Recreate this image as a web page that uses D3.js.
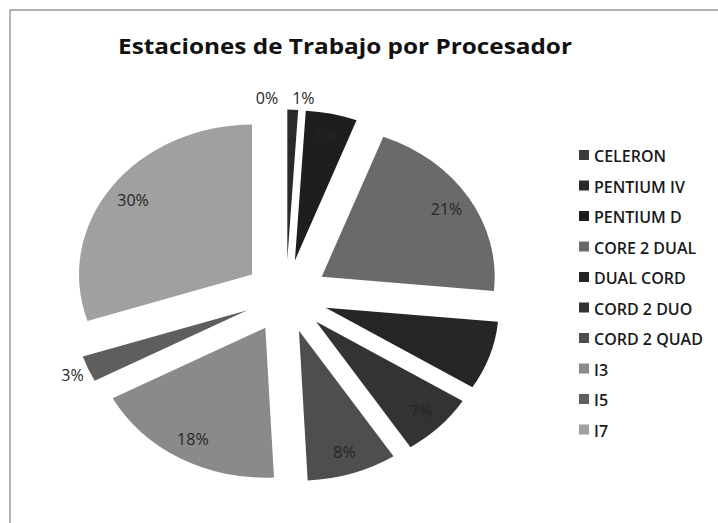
<!DOCTYPE html>
<html>
<head>
<meta charset="utf-8">
<script src="https://cdn.jsdelivr.net/npm/d3@7"></script>
<style>
  html, body { margin: 0; padding: 0; background: #fff; }
  #chart { width: 718px; height: 523px; }
</style>
</head>
<body>
<div id="chart"></div>
<script>
// datos (porcentaje por procesador)
const categorias = ["CELERON", "PENTIUM IV", "PENTIUM D", "CORE 2 DUAL", "DUAL CORD",
  "CORD 2 DUO", "CORD 2 QUAD", "I3", "I5", "I7"];
const valores = [0, 1, 4.8, 20.7, 7.4, 6.9, 8.4, 18.0, 2.8, 30];
const colores = ["#3a3a3a", "#2a2a2a", "#1e1e1e", "#6a6a6a", "#262626",
  "#333333", "#4e4e4e", "#8a8a8a", "#5e5e5e", "#a0a0a0"];
const titulo = "Estaciones de Trabajo por Procesador";

const width = 718, height = 523;
const cx = 286, cy = 296, r = 173, ky = 0.867, explode = 42;

const svg = d3.select("#chart").append("svg")
  .attr("width", width).attr("height", height);

// marco
svg.append("path")
  .attr("d", `M10,${height} L10,10 L${width},10`)
  .attr("fill", "none").attr("stroke", "#9a9a9a").attr("stroke-width", 1.5);

svg.append("text")
  .attr("x", 345).attr("y", 54)
  .attr("text-anchor", "middle")
  .attr("textLength", 454).attr("lengthAdjust", "spacingAndGlyphs")
  .style("font-family", "'Open Sans', sans-serif")
  .style("font-weight", "bold").style("font-size", "22px")
  .attr("fill", "#111")
  .text(titulo);

const color = d3.scaleOrdinal().domain(categorias).range(colores);
const dataset = categorias.map((c, i) => ({ cat: c, valor: valores[i] }));
const total = d3.sum(valores);

const pie = d3.pie().value(d => d.valor).sort(null);
const arcs = pie(dataset);
const arc = d3.arc().innerRadius(0).outerRadius(r);

const g = svg.append("g")
  .attr("transform", `translate(${cx},${cy}) scale(1,${ky})`);

g.selectAll("path.slice")
  .data(arcs)
  .enter()
  .append("path")
  .attr("class", "slice")
  .attr("d", arc)
  .attr("fill", d => color(d.data.cat))
  .attr("transform", d => {
    const m = (d.startAngle + d.endAngle) / 2;
    return `translate(${explode * Math.sin(m)},${-explode * Math.cos(m)})`;
  });

// etiquetas de porcentaje
const ajuste = { "CELERON": [-19, 4], "PENTIUM IV": [10, 4] };
svg.selectAll("text.lbl")
  .data(arcs)
  .enter()
  .append("text")
  .attr("class", "lbl")
  .attr("text-anchor", "middle")
  .attr("dominant-baseline", "central")
  .style("font-family", "'Open Sans', sans-serif")
  .style("font-size", "16px")
  .attr("fill", "#262626")
  .attr("transform", d => {
    const m = (d.startAngle + d.endAngle) / 2;
    const pct = d.data.valor / total;
    const rr = pct < 0.02 ? explode + r + 18 : (pct < 0.04 ? explode + r + 17 : explode + r * 0.85);
    const a = ajuste[d.data.cat] || [0, 0];
    const x = cx + rr * Math.sin(m) + a[0];
    const y = cy - rr * Math.cos(m) * ky + a[1];
    return `translate(${x},${y})`;
  })
  .text(d => Math.round(d.data.valor / total * 100) + "%");

// leyenda
const legend = svg.append("g").attr("transform", "translate(579,155)");
categorias.forEach((c, i) => {
  const row = legend.append("g").attr("transform", `translate(0,${i * 30.5})`);
  row.append("rect")
    .attr("x", 0).attr("y", -5).attr("width", 10).attr("height", 10)
    .attr("fill", color(c));
  row.append("text")
    .attr("x", 15).attr("y", 1)
    .attr("dominant-baseline", "central")
    .style("font-family", "'Open Sans', sans-serif")
    .style("font-size", "16px")
    .style("font-weight", "600")
    .attr("fill", "#1a1a1a")
    .text(c);
});
</script>
</body>
</html>
